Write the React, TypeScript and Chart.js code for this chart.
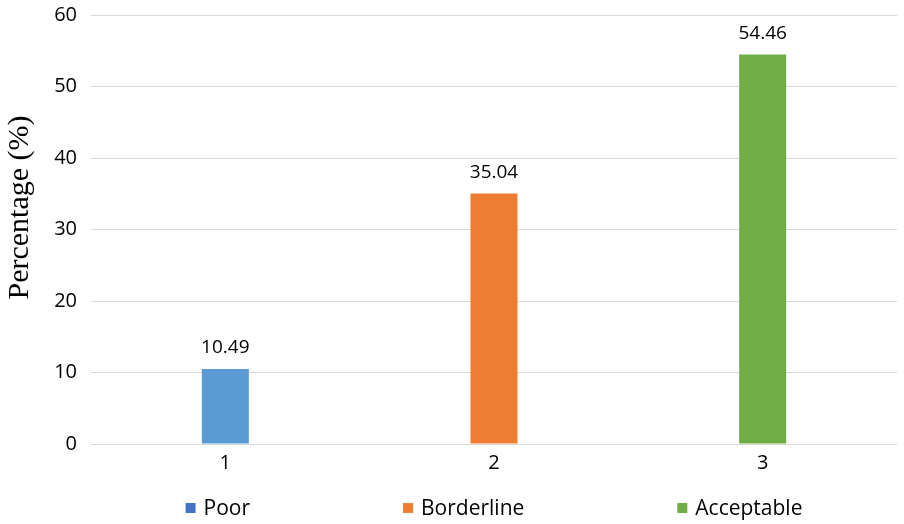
import React, { useEffect, useRef } from "react";
import { Chart, registerables } from "chart.js";

Chart.register(...registerables);

const categories = ["1", "2", "3"];
const seriesLabels = ["Poor", "Borderline", "Acceptable"];
const values = [10.49, 35.04, 54.46];
const barColors = ["#5B9BD5", "#ED7D31", "#70AD47"];
const legendColors = ["#4472C4", "#ED7D31", "#70AD47"];
const yTicks = [0, 10, 20, 30, 40, 50, 60];
const yTitle = "Percentage (%)";

const SANS = "'Open Sans', 'Noto Sans', sans-serif";
const SERIF = "'Liberation Serif', 'Times New Roman', serif";

const valueLabelPlugin = {
  id: "valueLabels",
  afterDatasetsDraw(chart: any) {
    const ctx = chart.ctx;
    ctx.save();
    ctx.font = `19px ${SANS}`;
    ctx.fillStyle = "#000";
    ctx.textAlign = "center";
    ctx.textBaseline = "middle";
    chart.data.datasets.forEach((ds: any, di: number) => {
      const meta = chart.getDatasetMeta(di);
      meta.data.forEach((el: any, i: number) => {
        const v = ds.data[i];
        if (v === null || v === undefined) return;
        ctx.fillText(v.toFixed(2), el.x, el.y - 21);
      });
    });
    ctx.restore();
  },
};

const yTitlePlugin = {
  id: "yTitle",
  afterDraw(chart: any) {
    const ctx = chart.ctx;
    const ca = chart.chartArea;
    ctx.save();
    ctx.font = `30px ${SERIF}`;
    ctx.fillStyle = "#000";
    ctx.textAlign = "center";
    ctx.textBaseline = "middle";
    ctx.translate(20, (ca.top + ca.bottom) / 2 - 22);
    ctx.rotate(-Math.PI / 2);
    ctx.fillText(yTitle, 0, 0);
    ctx.restore();
  },
};

const customLegendPlugin = {
  id: "customLegend",
  afterDraw(chart: any) {
    const ctx = chart.ctx;
    const box = 10;
    const textGap = 8;
    const itemGap = 153;
    ctx.save();
    ctx.font = `21px ${SANS}`;
    const widths = seriesLabels.map((l) => box + textGap + ctx.measureText(l).width);
    const total = widths.reduce((a, b) => a + b, 0) + itemGap * (widths.length - 1);
    const cx = (chart.chartArea.left + chart.chartArea.right) / 2;
    let x = cx - total / 2;
    const y = 508;
    ctx.textBaseline = "middle";
    ctx.textAlign = "left";
    seriesLabels.forEach((l, i) => {
      ctx.fillStyle = legendColors[i];
      ctx.fillRect(x, y - box / 2, box, box);
      ctx.fillStyle = "#000";
      ctx.fillText(l, x + box + textGap, y + 1);
      x += widths[i] + itemGap;
    });
    ctx.restore();
  },
};

export default function App() {
  const ref = useRef<HTMLCanvasElement | null>(null);

  useEffect(() => {
    if (!ref.current) return;
    const datasets = seriesLabels.map((label, i) => ({
      label,
      data: categories.map((_, j) => (j === i ? values[i] : null)),
      backgroundColor: barColors[i],
      borderWidth: 0,
      barPercentage: 0.175,
      categoryPercentage: 1,
    }));
    const chart = new Chart(ref.current, {
      type: "bar",
      data: { labels: categories, datasets },
      options: {
        animation: false,
        responsive: true,
        maintainAspectRatio: false,
        layout: { padding: { left: 0, right: 7, top: 15, bottom: 0 } },
        plugins: {
          legend: { display: false },
          tooltip: { enabled: false },
        },
        scales: {
          x: {
            stacked: true,
            grid: { display: false, drawTicks: false },
            border: { display: false },
            ticks: {
              color: "#000",
              font: { family: SANS, size: 20 },
              padding: 7,
            },
            afterFit(scale: any) {
              scale.height = 80;
              scale.paddingLeft = 0;
              scale.paddingRight = 0;
            },
          },
          y: {
            min: 0,
            max: 60,
            afterBuildTicks(scale: any) {
              scale.ticks = yTicks.map((v) => ({ value: v }));
            },
            grid: { color: "#D9D9D9", lineWidth: 1, drawTicks: false },
            border: { display: false },
            ticks: {
              color: "#000",
              font: { family: SANS, size: 20 },
              padding: 14,
            },
            afterFit(scale: any) {
              scale.width = 91;
              scale.paddingTop = 0;
              scale.paddingBottom = 0;
            },
          },
        },
      },
      plugins: [valueLabelPlugin, yTitlePlugin, customLegendPlugin],
    });
    return () => chart.destroy();
  }, []);

  return (
    <div style={{ position: "fixed", left: 0, top: 0, width: 904, height: 524 }}>
      <canvas ref={ref} />
    </div>
  );
}
